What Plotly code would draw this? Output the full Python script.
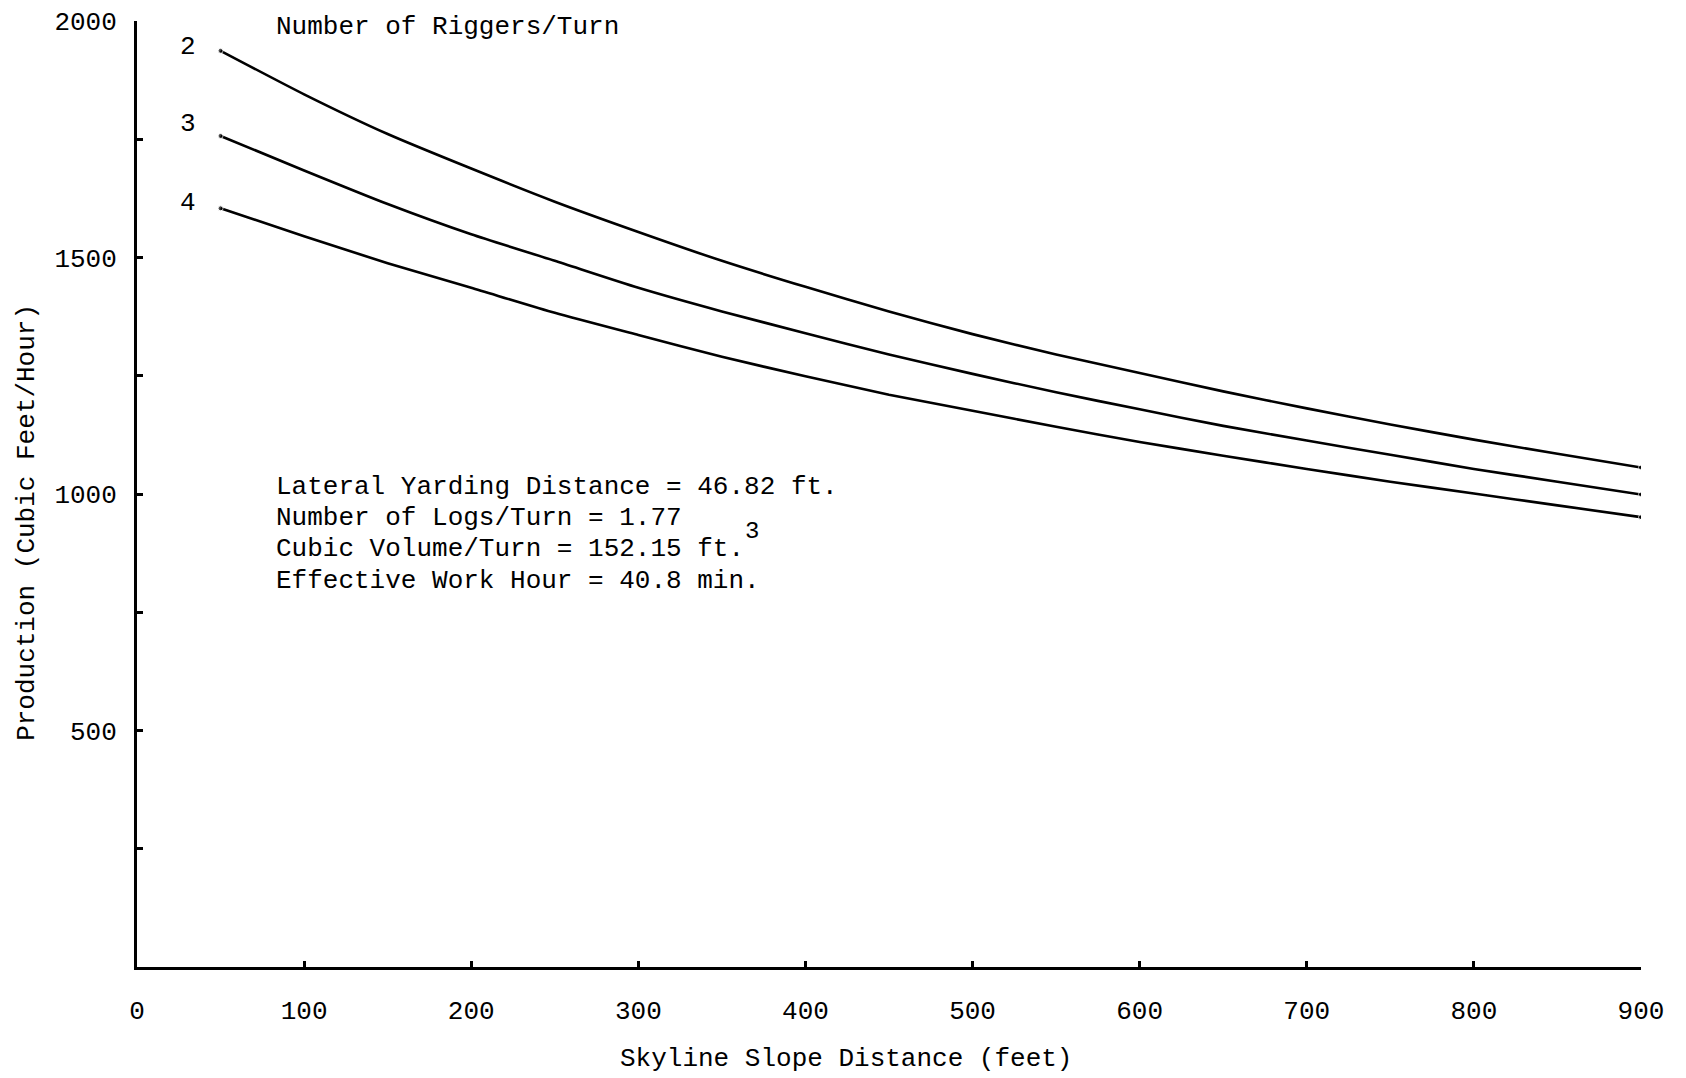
import plotly.graph_objects as go

# Skyline slope distance (feet)
distance = [50, 100, 150, 200, 250, 300, 350, 400, 450, 500, 550, 600, 650, 700, 750, 800, 850, 900]

# Production (cubic feet / hour) by number of riggers per turn
riggers_2 = [1937, 1845, 1761, 1688, 1618, 1554, 1493, 1438, 1386, 1338, 1295, 1256, 1217, 1181, 1147, 1115, 1085, 1056]
riggers_3 = [1757, 1684, 1613, 1549, 1493, 1436, 1386, 1340, 1295, 1254, 1215, 1179, 1144, 1113, 1083, 1053, 1026, 999]
riggers_4 = [1604, 1545, 1488, 1436, 1383, 1336, 1290, 1249, 1210, 1176, 1142, 1110, 1081, 1053, 1026, 1001, 976, 951]

series_labels = ["2", "3", "4"]
x_ticks = [0, 100, 200, 300, 400, 500, 600, 700, 800, 900]
y_ticks = [250, 500, 750, 1000, 1250, 1500, 1750, 2000]
y_ticktext = ["", "500", "", "1000", "", "1500", "", "2000"]

notes = [
    "Lateral Yarding Distance = 46.82 ft.",
    "Number of Logs/Turn = 1.77",
    "Cubic Volume/Turn = 152.15 ft.",
    "Effective Work Hour = 40.8 min.",
]

FONT = "Liberation Mono, Courier New, monospace"
FS = 26

fig = go.Figure()
for ys, name in zip([riggers_2, riggers_3, riggers_4], series_labels):
    sizes = [0] * len(distance)
    sizes[0] = 5
    sizes[-1] = 5
    fig.add_trace(go.Scatter(
        x=distance, y=ys, mode="lines+markers", name=name,
        line=dict(color="black", width=2.6, shape="spline", smoothing=0.6),
        marker=dict(color="black", size=sizes),
        showlegend=False,
    ))

annotations = []
label_y = [1945, 1782, 1615]
for name, yv in zip(series_labels, label_y):
    annotations.append(dict(x=30.5, y=yv, xref="x", yref="y", text=name,
                            showarrow=False, xanchor="center", yanchor="middle",
                            font=dict(family=FONT, size=FS, color="black")))

annotations.append(dict(x=82, y=1987, xref="x", yref="y", text="Number of Riggers/Turn",
                        showarrow=False, xanchor="left", yanchor="middle",
                        font=dict(family=FONT, size=FS, color="black")))

note_y = [1015, 949, 884, 816]
for t, yv in zip(notes, note_y):
    annotations.append(dict(x=82, y=yv, xref="x", yref="y", text=t,
                            showarrow=False, xanchor="left", yanchor="middle",
                            font=dict(family=FONT, size=FS, color="black")))
annotations.append(dict(x=368, y=920, xref="x", yref="y", text="3",
                        showarrow=False, xanchor="center", yanchor="middle",
                        font=dict(family=FONT, size=FS - 2, color="black")))

# axis titles
annotations.append(dict(x=0, y=939, xref="paper", yref="y", text="Production (Cubic Feet/Hour)",
                        showarrow=False, xanchor="center", yanchor="middle", textangle=-90,
                        xshift=-110,
                        font=dict(family=FONT, size=FS, color="black")))
annotations.append(dict(x=424, y=0, xref="x", yref="paper", text="Skyline Slope Distance (feet)",
                        showarrow=False, xanchor="center", yanchor="middle",
                        yshift=-92,
                        font=dict(family=FONT, size=FS, color="black")))

fig.update_layout(
    width=1686, height=1078,
    margin=dict(l=129, r=53, t=13, b=119),
    paper_bgcolor="white", plot_bgcolor="white",
    font=dict(family=FONT, size=FS, color="black"),
    annotations=annotations,
)

fig.update_xaxes(
    range=[0, 900], tickvals=x_ticks, ticktext=[str(v) for v in x_ticks],
    automargin=False,
    showgrid=False, zeroline=False, showline=True, linecolor="black", linewidth=2.5,
    ticks="inside", ticklen=6, tickwidth=2.5, tickcolor="black",
    ticklabelstandoff=18,
    tickfont=dict(family=FONT, size=FS, color="black"),
)
fig.update_yaxes(
    range=[0, 2000], tickvals=y_ticks, ticktext=y_ticktext,
    automargin=False,
    showgrid=False, zeroline=False, showline=True, linecolor="black", linewidth=3,
    ticks="inside", ticklen=6, tickwidth=2.5, tickcolor="black",
    ticklabelstandoff=12,
    tickfont=dict(family=FONT, size=FS, color="black"),
)

fig.write_html("out.html")
